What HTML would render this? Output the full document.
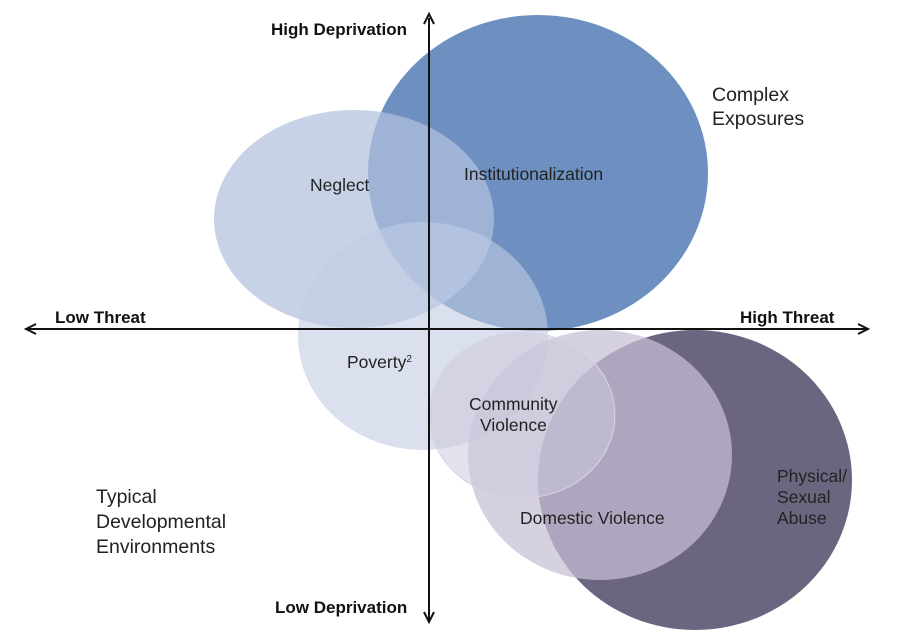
<!DOCTYPE html>
<html><head><style>body{margin:0;background:#fff}svg{display:block}text{font-family:"Liberation Sans",Arial,sans-serif}</style></head>
<body>
<svg width="898" height="630" viewBox="0 0 898 630">
<ellipse cx="538" cy="173" rx="170" ry="158" fill="#6d90c0"/>
<ellipse cx="354" cy="219" rx="140" ry="109" fill="#b2c1de" fill-opacity="0.72"/>
<ellipse cx="423" cy="336" rx="125" ry="114" fill="#c2cce3" fill-opacity="0.6"/>
<ellipse cx="695" cy="480" rx="157" ry="150" fill="#6c6580"/>
<ellipse cx="600" cy="455" rx="132" ry="125" fill="#c6bfd6" fill-opacity="0.72"/>
<ellipse cx="522" cy="415" rx="93" ry="83" fill="#cdc8dc" fill-opacity="0.55" stroke="#d8d4e4" stroke-width="1"/>
<line x1="429" y1="18" x2="429" y2="620" stroke="#111" stroke-width="2"/>
<path d="M424,24 L429,14 L434,24" fill="none" stroke="#111" stroke-width="2"/>
<path d="M424,612 L429,622 L434,612" fill="none" stroke="#111" stroke-width="2"/>
<line x1="28" y1="329" x2="866" y2="329" stroke="#111" stroke-width="2"/>
<path d="M36,324 L26,329 L36,334" fill="none" stroke="#111" stroke-width="2"/>
<path d="M858,324 L868,329 L858,334" fill="none" stroke="#111" stroke-width="2"/>
<g font-weight="bold" font-size="17" fill="#111">
<text x="271" y="35">High Deprivation</text>
<text x="275" y="613">Low Deprivation</text>
<text x="55" y="323">Low Threat</text>
<text x="740" y="323">High Threat</text>
</g>
<g font-size="17.5" fill="#222">
<text x="712" y="101" font-size="19.5">Complex</text>
<text x="712" y="125" font-size="19.5">Exposures</text>
<text x="96" y="503" font-size="19.5">Typical</text>
<text x="96" y="528" font-size="19.5">Developmental</text>
<text x="96" y="553" font-size="19.5">Environments</text>
<text x="310" y="191">Neglect</text>
<text x="464" y="180">Institutionalization</text>
<text x="347" y="368">Poverty<tspan font-size="10" dy="-6">2</tspan></text>
<text x="469" y="410">Community</text>
<text x="480" y="431">Violence</text>
<text x="520" y="524">Domestic Violence</text>
<text x="777" y="482">Physical/</text>
<text x="777" y="503">Sexual</text>
<text x="777" y="524">Abuse</text>
</g>
</svg>
</body></html>
